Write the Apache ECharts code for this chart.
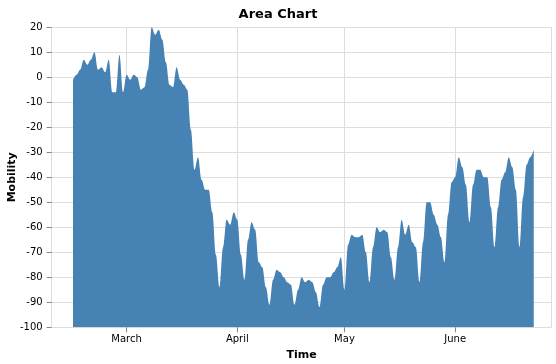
<!DOCTYPE html>
<html>
<head>
<meta charset="utf-8">
<script src="https://cdn.jsdelivr.net/npm/echarts@6/dist/echarts.min.js"></script>
<style>
html,body{margin:0;padding:0;background:#fff;}
#chart{width:556px;height:364px;}
</style>
</head>
<body>
<div id="chart"></div>
<script>
// first observation date (daily series follows)
const startDate = [2020, 1, 15];
const mobility = [
  -1, 1, 3, 7, 5, 7, 10, 3, 4, 2,
  7, -6, -6, 9, -6, 1, -1, 1, 0, -5,
  -4, 3, 20, 17, 19, 15, 6, -3, -4, 4,
  -1, -3, -5, -21, -37, -32, -41, -45, -45, -54,
  -71, -84, -68, -57, -59, -54, -57, -71, -81, -65,
  -58, -61, -74, -76, -84, -91, -81, -77, -78, -80,
  -82, -83, -91, -85, -80, -82, -81, -82, -86, -92,
  -83, -80, -80, -78, -76, -72, -85, -67, -63, -64,
  -64, -63, -70, -82, -68, -60, -62, -61, -62, -72,
  -81, -68, -57, -63, -59, -66, -68, -82, -66, -50,
  -50, -55, -59, -64, -74, -55, -42, -40, -32, -36,
  -43, -58, -43, -37, -37, -40, -40, -52, -68, -52,
  -41, -38, -32, -36, -45, -68, -48, -35, -32, -29
];
const monthNames = ['January','February','March','April','May','June','July','August','September','October','November','December'];
const yTicks = [-100, 20, 10];
const xDomain = [[2020, 1, 9], [2020, 5, 28]];

const dates = mobility.map((_, i) => new Date(startDate[0], startDate[1], startDate[2] + i).getTime());
const seriesData = mobility.map((v, i) => [dates[i], v]);

const chart = echarts.init(document.getElementById('chart'), null, {renderer: 'canvas'});
const font = 'DejaVu Sans, sans-serif';
chart.setOption({
  animation: false,
  title: {
    text: 'Area Chart',
    left: 'center',
    top: 3,
    textStyle: {fontFamily: font, fontSize: 13, fontWeight: 'bold', color: '#000'}
  },
  grid: {left: 51.6, right: 4.4, top: 27.3, bottom: 36.7, containLabel: false, outerBoundsMode: 'none'},
  xAxis: {
    type: 'time',
    min: new Date(...xDomain[0]).getTime(),
    max: new Date(...xDomain[1]).getTime(),
    splitNumber: 4,
    minInterval: 27 * 86400000,
    name: 'Time',
    nameLocation: 'middle',
    nameGap: 19,
    nameTextStyle: {fontFamily: font, fontSize: 11, fontWeight: 'bold', color: '#000'},
    axisLine: {show: false, onZero: false},
    axisTick: {show: true, length: 5, lineStyle: {color: '#888'}},
    axisLabel: {
      fontFamily: font, fontSize: 10, color: '#000', margin: 7,
      hideOverlap: false,
      formatter: function (value) {
        const d = new Date(value);
        return d.getDate() === 1 ? monthNames[d.getMonth()] : '';
      }
    },
    splitLine: {show: true, lineStyle: {color: '#ddd', width: 1}}
  },
  yAxis: {
    type: 'value',
    min: yTicks[0],
    max: yTicks[1],
    interval: yTicks[2],
    name: 'Mobility',
    nameLocation: 'middle',
    nameRotate: 90,
    nameGap: 34,
    nameMoveOverlap: false,
    nameTextStyle: {fontFamily: font, fontSize: 11, fontWeight: 'bold', color: '#000'},
    axisLine: {show: false},
    axisTick: {show: true, length: 5, lineStyle: {color: '#888'}},
    axisLabel: {fontFamily: font, fontSize: 10, color: '#000', margin: 9},
    splitLine: {show: true, lineStyle: {color: '#ddd', width: 1}}
  },
  series: [{
    type: 'line',
    data: seriesData,
    showSymbol: false,
    smooth: 0.35,
    smoothMonotone: 'x',
    lineStyle: {width: 0},
    areaStyle: {color: '#4682b4', opacity: 1, origin: 'start'}
  }]
});
</script>
</body>
</html>
